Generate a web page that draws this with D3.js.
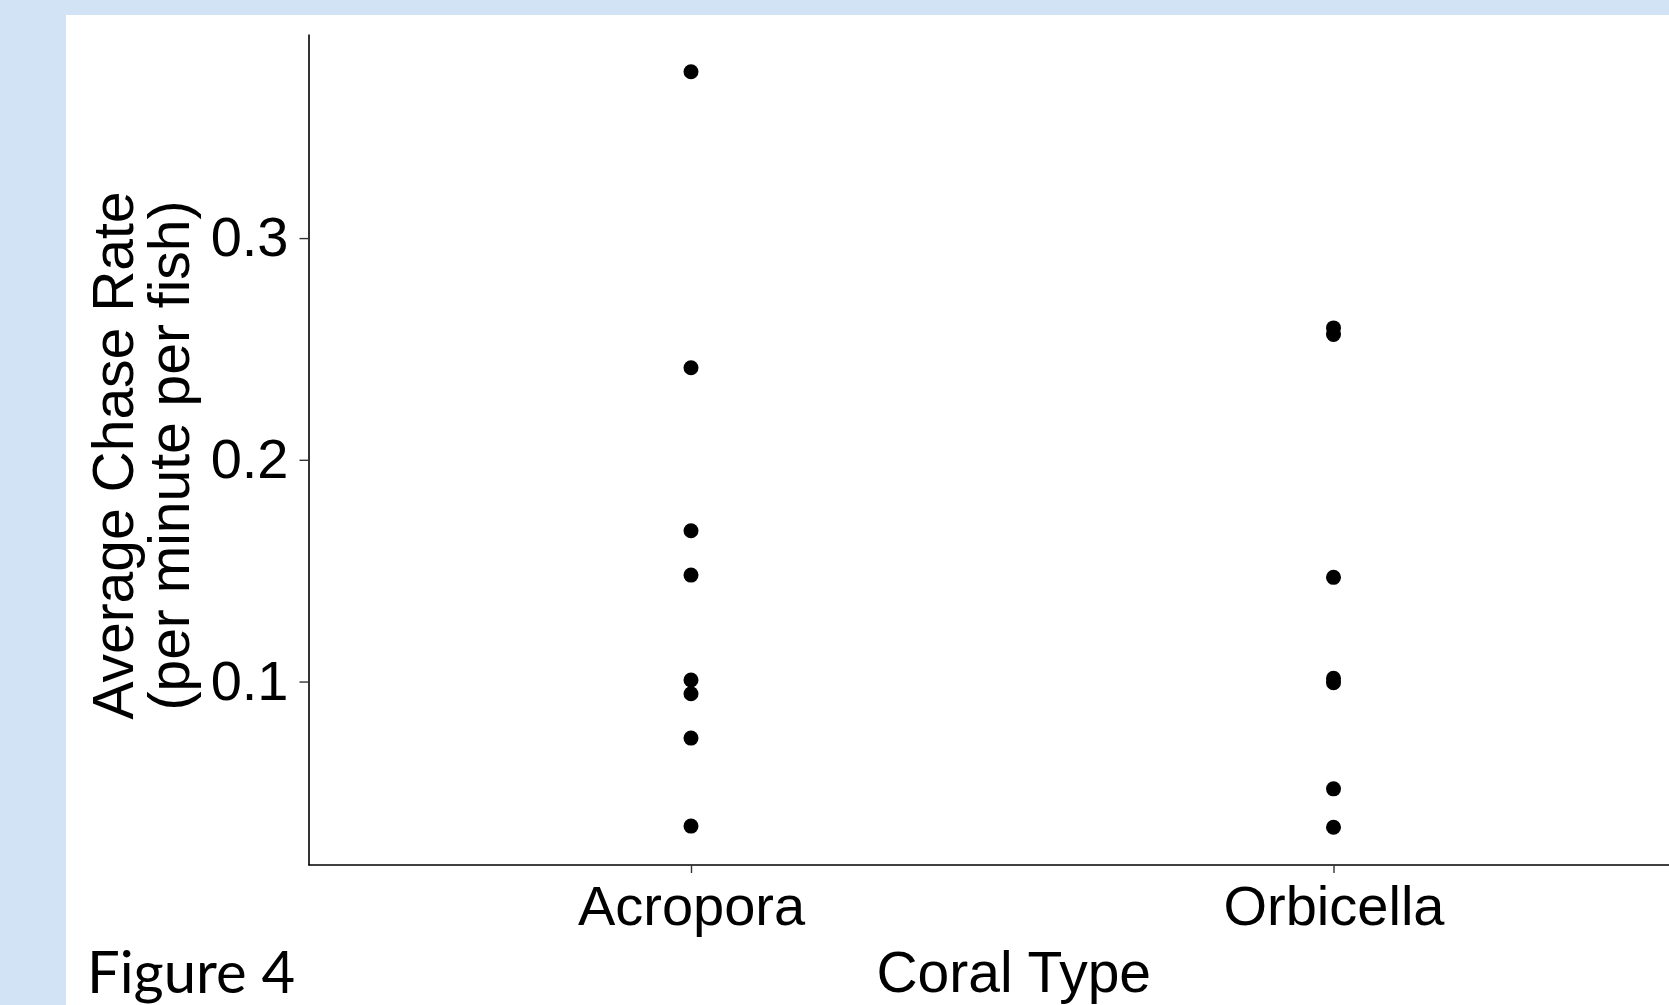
<!DOCTYPE html>
<html>
<head>
<meta charset="utf-8">
<script src="https://cdn.jsdelivr.net/npm/d3@7"></script>
<style>
  body { margin: 0; background: #d2e3f5; overflow: hidden; }
</style>
</head>
<body>
<script>
const width = 1669;
const height = 1005;

// data
const coralTypes = ["Acropora", "Orbicella"];
const acroporaRates = [0.375, 0.2415, 0.168, 0.148, 0.1007, 0.0945, 0.0745, 0.0348];
const orbicellaRates = [0.2595, 0.2565, 0.147, 0.1015, 0.0995, 0.0516, 0.0343];
const yTicks = [0.1, 0.2, 0.3];

const xLabel = "Coral Type";
const yLabel = ["Average Chase Rate", "(per minute per fish)"];
const figureLabel = "Figure 4";

const panel = { left: 308.5, top: 34, bottom: 865, right: 1719 };

let svg;

function prepareVis() {
  svg = d3.select("body")
    .append("svg")
    .attr("width", width)
    .attr("height", height)
    .style("display", "block");

  // blue page with white slide panel
  svg.append("rect")
    .attr("width", width).attr("height", height)
    .attr("fill", "#d2e3f5");
  svg.append("rect")
    .attr("x", 66).attr("y", 15)
    .attr("width", width - 66).attr("height", height - 15)
    .attr("fill", "#ffffff");
}

function drawVis() {
  const points = [];
  acroporaRates.forEach(v => points.push({ type: coralTypes[0], value: v }));
  orbicellaRates.forEach(v => points.push({ type: coralTypes[1], value: v }));

  const allValues = points.map(d => d.value);
  const [lo, hi] = d3.extent(allValues);
  const pad = (hi - lo) * 0.05; // like ggplot's default expansion

  const x = d3.scalePoint()
    .domain(coralTypes)
    .range([panel.left - 3, panel.right])
    .padding(0.6);

  const y = d3.scaleLinear()
    .domain([lo - pad, hi + pad])
    .range([panel.bottom, panel.top]);

  const font = "'Liberation Sans', Arial, sans-serif";

  // y axis
  const yAxis = svg.append("g")
    .attr("transform", `translate(${panel.left},0)`)
    .call(d3.axisLeft(y)
      .tickValues(yTicks)
      .tickFormat(d3.format(".1f"))
      .tickSize(9)
      .tickSizeOuter(0)
      .tickPadding(11));

  // x axis
  const xAxis = svg.append("g")
    .attr("transform", `translate(0,${panel.bottom})`)
    .call(d3.axisBottom(x)
      .tickSize(8)
      .tickSizeOuter(0)
      .tickPadding(12));

  // keep the x axis line starting at the y axis
  xAxis.select(".domain").attr("d", `M${panel.left},0H${panel.right}`);

  [yAxis, xAxis].forEach(g => {
    g.select(".domain").attr("stroke", "#000").attr("stroke-width", 1.6);
    g.selectAll(".tick line").attr("stroke", "#333").attr("stroke-width", 1.4);
    g.selectAll(".tick text")
      .attr("fill", "#000")
      .style("font-family", font)
      .style("font-size", "56px");
  });

  // points
  svg.append("g")
    .selectAll("circle")
    .data(points)
    .join("circle")
    .attr("cx", d => x(d.type))
    .attr("cy", d => y(d.value))
    .attr("r", 7.5)
    .attr("fill", "#000");

  // axis titles
  svg.append("text")
    .attr("x", (panel.left + panel.right) / 2)
    .attr("y", 992)
    .attr("text-anchor", "middle")
    .style("font-family", font)
    .style("font-size", "57px")
    .attr("fill", "#000")
    .text(xLabel);

  const cy = (panel.top + panel.bottom) / 2 + 6;
  svg.selectAll(".ylab")
    .data(yLabel)
    .join("text")
    .attr("class", "ylab")
    .attr("transform", (d, i) => `translate(${133 + i * 56},${cy}) rotate(-90)`)
    .attr("text-anchor", "middle")
    .style("font-family", font)
    .style("font-size", "57px")
    .attr("fill", "#000")
    .text(d => d);

  // figure caption
  svg.append("text")
    .attr("x", 87)
    .attr("y", 993)
    .style("font-family", "Lato, 'Open Sans', sans-serif")
    .style("font-size", "58px")
    .attr("fill", "#000")
    .text(figureLabel);
}

function runApp() {
  prepareVis();
  drawVis();
}

runApp();
</script>
</body>
</html>
